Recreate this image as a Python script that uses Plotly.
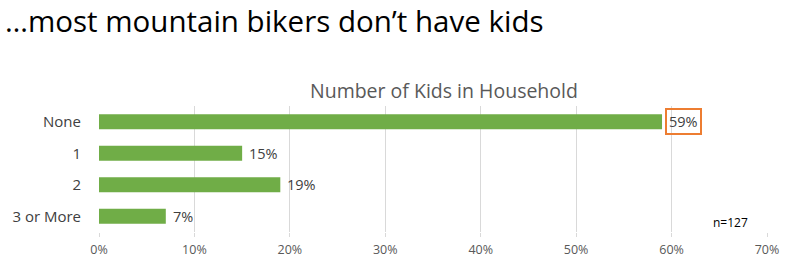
import plotly.graph_objects as go

categories = ["None", "1", "2", "3 or More"]
values = [59, 15, 19, 7]
highlight = "None"
x_ticks = [0, 10, 20, 30, 40, 50, 60, 70]
x_tick_labels = [f"{t}%" for t in x_ticks]

FONT = "Open Sans, Segoe UI, sans-serif"
GREEN = "#70AD47"

fig = go.Figure(go.Bar(
    x=values, y=categories, orientation="h",
    marker=dict(color=GREEN, line=dict(width=0)),
    width=0.48, cliponaxis=False,
))

for c, v in zip(categories, values):
    if c == highlight:
        fig.add_annotation(
            x=v, y=c, xref="x", yref="y", text=f"{v}%", showarrow=False,
            xanchor="left", xshift=3,
            font=dict(family=FONT, size=14.5, color="#404040"),
            bordercolor="#ED7D31", borderwidth=2, borderpad=2,
        )
    else:
        fig.add_annotation(
            x=v, y=c, xref="x", yref="y", text=f"{v}%", showarrow=False,
            xanchor="left", xshift=5,
            font=dict(family=FONT, size=14.5, color="#404040"),
        )

fig.add_annotation(
    x=(730 - 99) / (767 - 99), y=0, xref="paper", yref="paper", yshift=10,
    text="n=127", showarrow=False, xanchor="center", yanchor="middle",
    font=dict(family=FONT, size=12, color="#000000"),
)

fig.add_annotation(
    x=(444 - 99) / (767 - 99), y=1, xref="paper", yref="paper", yshift=16,
    text="Number of Kids in Household", showarrow=False, xanchor="center", yanchor="middle",
    font=dict(family=FONT, size=19.5, color="#595959"),
)

fig.update_layout(
    width=788, height=264,
    margin=dict(l=99, r=21, t=106, b=32, autoexpand=False),
    paper_bgcolor="white", plot_bgcolor="white",
    showlegend=False,
    title=dict(text="…most mountain bikers don’t have kids", x=5 / 788, xanchor="left",
               y=1 - 22 / 264, yanchor="middle",
               font=dict(family=FONT, size=29.5, color="#000000")),
)

fig.update_xaxes(
    range=[0, 70], tickvals=x_ticks, ticktext=x_tick_labels,
    showgrid=True, gridcolor="#D9D9D9", gridwidth=1, zeroline=False,
    showline=False, ticks="outside", ticklen=4, tickcolor="#D9D9D9",
    ticklabelstandoff=2, automargin=False,
    tickfont=dict(family=FONT, size=12.5, color="#595959"),
)
fig.update_yaxes(
    categoryorder="array", categoryarray=categories, autorange="reversed",
    showgrid=False, zeroline=False, showline=False, ticks="",
    ticklabelstandoff=17, automargin=False,
    tickfont=dict(family=FONT, size=15, color="#404040"),
)

fig.write_html("out.html")
